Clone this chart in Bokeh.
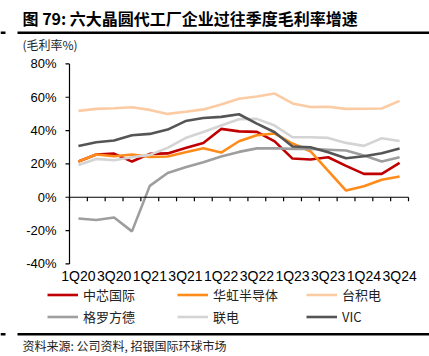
import math
from bokeh.plotting import figure
from bokeh.models import Range1d, Label, BoxAnnotation, Legend, LegendItem
from bokeh.core.properties import value
from bokeh.embed import file_html
from bokeh.resources import INLINE

quarters = ["1Q20", "2Q20", "3Q20", "4Q20", "1Q21", "2Q21", "3Q21", "4Q21",
            "1Q22", "2Q22", "3Q22", "4Q22", "1Q23", "2Q23", "3Q23", "4Q23",
            "1Q24", "2Q24", "3Q24"]
smic = [21.4, 25.6, 26.2, 21.4, 26.0, 26.3, 29.5, 32.6, 41.0, 39.5, 39.2, 33.5,
        23.2, 22.6, 24.0, 18.8, 14.0, 14.0, 20.6]
huahong = [21.4, 25.6, 24.6, 25.6, 24.2, 24.4, 27.0, 29.4, 26.8, 33.6, 37.2, 38.2,
           32.2, 27.6, 15.8, 4.0, 6.6, 10.5, 12.4]
tsmc = [51.8, 53.0, 53.4, 54.0, 52.4, 50.0, 51.3, 52.7, 55.6, 59.1, 60.4, 62.2,
        56.3, 54.1, 54.3, 53.0, 53.1, 53.2, 57.8]
gf = [-12.8, -13.7, -12.2, -20.5, 6.8, 14.5, 18.0, 21.0, 24.4, 27.2, 29.3, 29.4,
      29.0, 29.0, 28.5, 28.0, 25.0, 21.5, 24.0]
umc = [19.4, 23.0, 22.2, 24.0, 25.4, 29.6, 35.5, 39.2, 43.0, 46.8, 47.0, 43.0,
       36.0, 36.0, 35.6, 32.6, 30.8, 35.4, 33.7]
vis = [30.8, 33.0, 34.0, 37.2, 38.0, 40.6, 45.7, 47.5, 48.2, 49.8, 44.2, 39.0,
       30.4, 30.0, 27.0, 23.4, 24.6, 26.4, 29.2]
y_ticks = [-40, -20, 0, 20, 40, 60, 80]
y_tick_labels = ["-40%", "-20%", "0%", "20%", "40%", "60%", "80%"]

names = ["中芯国际", "华虹半导体", "台积电", "格罗方德", "联电", "VIC"]
series = [smic, huahong, tsmc, gf, umc, vis]
colors = ["#C00000", "#FF8C1A", "#FBCBA3", "#9E9E9E", "#D4D4D4", "#555555"]

# ---- layout (canvas pixels; the page has no margin, canvas = window) ----
W, H = 429, 356
PL, PR, PT, PB = 69, 408, 63.4, 263.4   # plot area edges in canvas px

n = len(quarters)
xs = list(range(n))
x_lo, x_hi = -0.5, n - 0.5
y_lo, y_hi = y_ticks[0], y_ticks[-1]
xu = (PR - PL) / (x_hi - x_lo)
yu = (PB - PT) / (y_hi - y_lo)

p = figure(width=W, height=H, output_backend="svg", toolbar_location=None,
           title=None, x_axis_location=None, y_axis_location=None,
           x_range=Range1d(x_lo - PL / xu, x_hi + (W - PR) / xu),
           y_range=Range1d(y_lo - (H - PB) / yu, y_hi + PT / yu),
           min_border=0, min_border_left=0, min_border_right=0,
           min_border_top=0, min_border_bottom=0)
p.xgrid.visible = False
p.ygrid.visible = False
p.outline_line_color = None
p.background_fill_color = "white"
p.border_fill_color = "white"

tick_font = value("Liberation Sans")
cjk = "Noto Sans CJK SC"

# lines
renderers = []
for vals, c in zip(series, colors):
    renderers.append(p.line(xs, vals, line_color=c, line_width=2.6))

# y axis
p.segment(x0=[x_lo], y0=[y_lo], x1=[x_lo], y1=[y_hi], line_color="black", line_width=1.2)
p.ray(x=[x_lo] * len(y_ticks), y=y_ticks, length=4, length_units="screen",
      angle=math.pi, line_color="black", line_width=1.2)
p.text(x=[x_lo] * len(y_ticks), y=y_ticks, text=y_tick_labels, x_offset=-13,
       text_align="right", text_baseline="middle", text_font=tick_font,
       text_font_size="13px", text_color="black")

# x axis (on the zero line), labels at the bottom
bounds = [i - 0.5 for i in range(n + 1)]
p.segment(x0=[x_lo], y0=[0], x1=[x_hi], y1=[0], line_color="black", line_width=1.2)
p.ray(x=bounds, y=[0] * len(bounds), length=4, length_units="screen",
      angle=-math.pi / 2, line_color="black", line_width=1.2)
p.text(x=xs[::2], y=[y_lo] * len(xs[::2]), text=quarters[::2], y_offset=4,
       text_align="center", text_baseline="top", text_font=tick_font,
       text_font_size="14px", text_color="black")

# legends (three columns)
def add_legend(idx, xloc):
    lg = Legend(items=[LegendItem(label=names[i], renderers=[renderers[i]]) for i in idx],
                location=(xloc, H - 325.5), orientation="vertical", padding=0, margin=0,
                spacing=3, glyph_width=31, glyph_height=17, label_height=17,
                label_standoff=5, label_text_font=cjk,
                label_text_font_size="13px", label_text_color="#222222",
                border_line_color=None, background_fill_alpha=0)
    p.add_layout(lg, "center")

add_legend([0, 3], 47)
add_legend([1, 4], 177)
add_legend([2, 5], 306)

# texts
p.add_layout(Label(x=22, y=H - 17, x_units="screen", y_units="screen",
                   text="图 79: 六大晶圆代工厂企业过往季度毛利率增速", text_font=cjk,
                   text_font_style="bold", text_font_size="16px",
                   text_baseline="middle", text_align="left", text_color="black"))
p.add_layout(Label(x=22, y=H - 44, x_units="screen", y_units="screen",
                   text="(毛利率%)", text_font=cjk, text_font_size="12px",
                   text_baseline="middle", text_align="left", text_color="#222222"))
p.add_layout(Label(x=22, y=H - 345, x_units="screen", y_units="screen",
                   text="资料来源: 公司资料, 招银国际环球市场", text_font=cjk,
                   text_font_size="12px", text_baseline="middle", text_align="left",
                   text_color="#222222"))
for ytop in (31, 332.5):
    for left, right in ((17, W), (0, 5)):
        p.add_layout(BoxAnnotation(left=left, right=right, top=H - ytop,
                                   bottom=H - ytop - 2.5,
                                   left_units="screen", right_units="screen",
                                   top_units="screen", bottom_units="screen",
                                   fill_color="black", fill_alpha=1, line_color=None))

open("out.html", "w").write(file_html(p, INLINE))
